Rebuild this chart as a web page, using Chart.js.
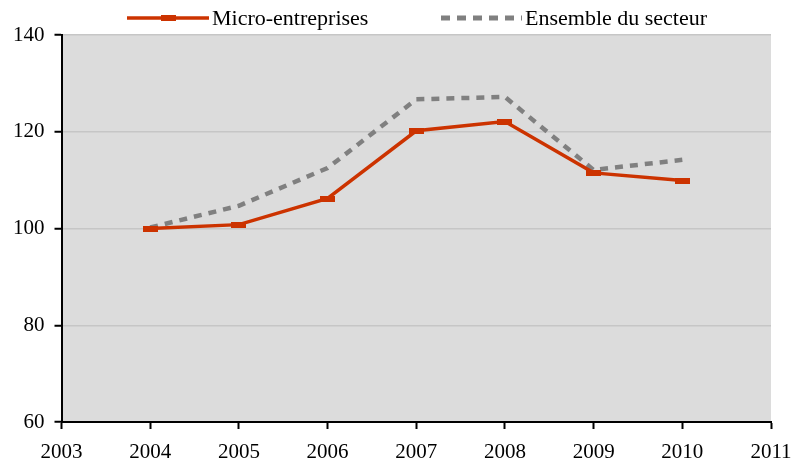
<!DOCTYPE html>
<html>
<head>
<meta charset="utf-8">
<script src="https://cdn.jsdelivr.net/npm/chart.js@4"></script>
<style>
  body { margin: 0; background: #fff; }
  #wrap { width: 793px; height: 464px; position: relative; }
</style>
</head>
<body>
<div id="wrap"><canvas id="chart"></canvas></div>
<script>
// données (indice base 100 en 2004)
const years = [2004, 2005, 2006, 2007, 2008, 2009, 2010];
const microEntreprises = [100, 100.8, 106.2, 120.2, 122.1, 111.5, 109.9];
const ensembleSecteur = [100.2, 104.7, 112.5, 126.7, 127.2, 112.1, 114.2];
const seriesLabels = ['Micro-entreprises', 'Ensemble du secteur'];
const xTicks = [2003, 2004, 2005, 2006, 2007, 2008, 2009, 2010, 2011];
const yTicks = [60, 80, 100, 120, 140];

const RED = '#cc3300';
const GREY = '#808080';
const FONT = '"Liberation Serif", "Times New Roman", serif';

// marqueur rectangulaire (un peu plus large que haut, comme l'original)
function makeMarker(w, h, color) {
    const c = document.createElement('canvas');
    c.width = w;
    c.height = h;
    const cx = c.getContext('2d');
    cx.fillStyle = color;
    cx.fillRect(0, 0, w, h);
    return c;
}
const marker = makeMarker(15, 6, RED);

const plotBackground = {
    id: 'plotBackground',
    beforeDraw(chart) {
        const { ctx, chartArea: a } = chart;
        ctx.save();
        ctx.fillStyle = '#dcdcdc';
        ctx.fillRect(a.left, a.top, a.right - a.left, a.bottom - a.top);
        ctx.restore();
    }
};

// légende dessinée à la main : trait + marqueur, puis tirets
const customLegend = {
    id: 'customLegend',
    afterDraw(chart) {
        const ctx = chart.ctx;
        const y = 18;
        ctx.save();
        ctx.strokeStyle = RED;
        ctx.lineWidth = 3.5;
        ctx.beginPath();
        ctx.moveTo(127, y);
        ctx.lineTo(209, y);
        ctx.stroke();
        ctx.drawImage(marker, 161, y - 3);

        ctx.strokeStyle = GREY;
        ctx.lineWidth = 5;
        ctx.setLineDash([9, 7]);
        ctx.beginPath();
        ctx.moveTo(441, y);
        ctx.lineTo(522, y);
        ctx.stroke();
        ctx.setLineDash([]);

        ctx.fillStyle = '#000';
        ctx.font = '22px ' + FONT;
        ctx.textBaseline = 'middle';
        ctx.fillText(seriesLabels[0], 212, y + 1);
        ctx.fillText(seriesLabels[1], 525, y + 1);
        ctx.restore();
    }
};

new Chart(document.getElementById('chart'), {
    type: 'line',
    data: {
        datasets: [
            {
                label: seriesLabels[0],
                data: years.map((yr, i) => ({ x: yr, y: microEntreprises[i] })),
                borderColor: RED,
                backgroundColor: RED,
                borderWidth: 3.5,
                pointStyle: marker,
                pointRadius: 5,
                tension: 0,
                order: 1
            },
            {
                label: seriesLabels[1],
                data: years.map((yr, i) => ({ x: yr, y: ensembleSecteur[i] })),
                borderColor: GREY,
                borderWidth: 4.5,
                borderDash: [8, 7],
                pointRadius: 0,
                tension: 0,
                order: 2
            }
        ]
    },
    options: {
        responsive: true,
        maintainAspectRatio: false,
        animation: false,
        layout: { padding: { top: 35, left: 3, right: 22, bottom: 1 } },
        plugins: {
            legend: { display: false },
            tooltip: { enabled: false }
        },
        scales: {
            x: {
                type: 'linear',
                min: xTicks[0],
                max: xTicks[xTicks.length - 1],
                afterBuildTicks: axis => { axis.ticks = xTicks.map(v => ({ value: v })); },
                afterFit: axis => { axis.paddingRight = 0; axis.height = 41; },
                grid: { drawOnChartArea: false, tickLength: 7, tickColor: '#000', tickWidth: 2 },
                border: { color: '#000', width: 2 },
                ticks: {
                    color: '#000',
                    padding: 13,
                    maxRotation: 0,
                    font: { family: FONT, size: 21, lineHeight: 1 },
                    callback: v => String(v)
                }
            },
            y: {
                min: yTicks[0],
                max: yTicks[yTicks.length - 1],
                afterBuildTicks: axis => { axis.ticks = yTicks.map(v => ({ value: v })); },
                grid: { color: '#c6c6c6', lineWidth: 1.5, tickLength: 7, tickColor: '#000', tickWidth: 2 },
                border: { color: '#000', width: 2 },
                ticks: {
                    color: '#000',
                    padding: 10,
                    font: { family: FONT, size: 21 }
                }
            }
        }
    },
    plugins: [plotBackground, customLegend]
});
</script>
</body>
</html>
